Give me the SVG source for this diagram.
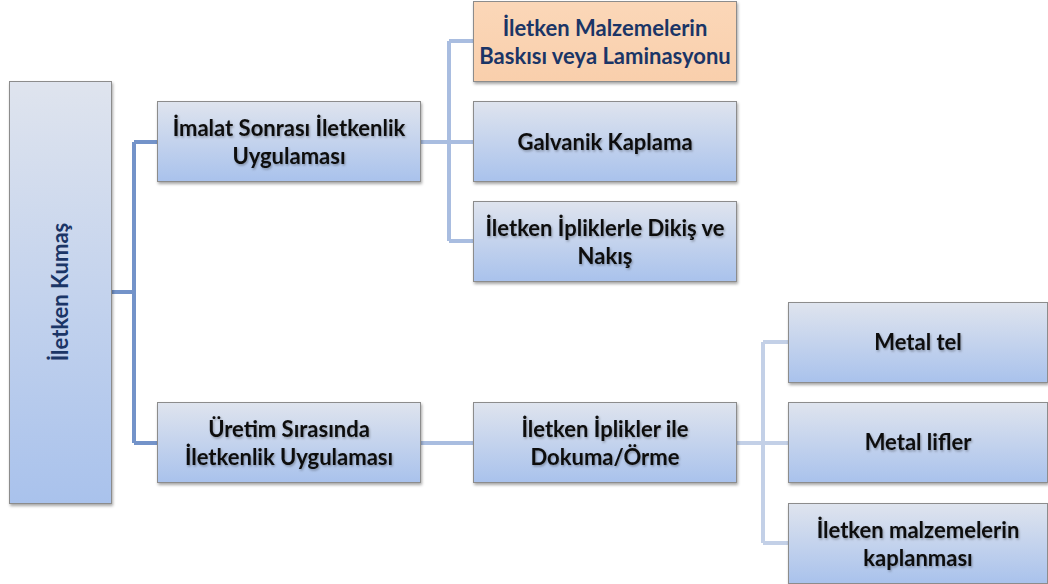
<svg xmlns="http://www.w3.org/2000/svg" width="1048" height="584" viewBox="0 0 1048 584">
<style>
.box{fill:url(#g);stroke:#8c8c8c;stroke-width:1;filter:url(#sh)}
.org{fill:url(#go);stroke:#8c8c8c;stroke-width:1;filter:url(#sh)}
text{font-family:Lato,"Open Sans","Liberation Sans",sans-serif;font-weight:bold;font-size:22px;text-anchor:middle;fill:#0d0d0d}
.t{filter:url(#ts)}
.navy{fill:#1b3566}
.c1{fill:none;stroke:#7393c9;stroke-width:4}
.c2{fill:none;stroke:#a9bde0;stroke-width:4}
.c3{fill:none;stroke:#c3d0e7;stroke-width:4}
</style>
<defs>
<linearGradient id="g" x1="0" y1="0" x2="0" y2="1">
<stop offset="0" stop-color="#dfe4ee"/>
<stop offset="1" stop-color="#a9c2ec"/>
</linearGradient>
<linearGradient id="go" x1="0" y1="0" x2="0" y2="1">
<stop offset="0" stop-color="#fbd7b8"/>
<stop offset="1" stop-color="#f9cfac"/>
</linearGradient>
<filter id="sh" x="-10%" y="-10%" width="120%" height="130%">
<feDropShadow dx="1" dy="2" stdDeviation="1.5" flood-color="#000" flood-opacity="0.35"/>
</filter>
<filter id="ts" x="-5%" y="-20%" width="110%" height="150%">
<feDropShadow dx="1" dy="1.5" stdDeviation="1" flood-color="#000" flood-opacity="0.3"/>
</filter>
</defs>
<g id="connectors">
<path class="c1" d="M111 292H134M134 142V443M134 142H157M134 443H157"/>
<path class="c2" d="M420 142H449M449 41V241M449 41H473M449 142H473M449 241H473"/>
<path class="c2" d="M420 443H473"/>
<path class="c3" d="M736 443H763M763 342V543M763 342H789M763 443H789M763 543H789"/>
</g>
<g id="root">
<rect class="box" x="9.5" y="81.5" width="102" height="422"/>
<text class="navy" transform="translate(68,292) rotate(-90)">İletken Kumaş</text>
</g>
<g id="imalat">
<rect class="box" x="157.5" y="101.5" width="263" height="80"/>
<text class="t" x="289" y="136">İmalat Sonrası İletkenlik</text>
<text class="t" x="289" y="164">Uygulaması</text>
</g>
<g id="uretim">
<rect class="box" x="157.5" y="402.5" width="263" height="80"/>
<text class="t" x="289" y="437">Üretim Sırasında</text>
<text class="t" x="289" y="465">İletkenlik Uygulaması</text>
</g>
<g id="baski">
<rect class="org" x="473.5" y="1.5" width="263" height="80"/>
<text class="navy" x="605" y="36">İletken Malzemelerin</text>
<text class="navy" x="605" y="64">Baskısı veya Laminasyonu</text>
</g>
<g id="galvanik">
<rect class="box" x="473.5" y="101.5" width="263" height="80"/>
<text class="t" x="605" y="150">Galvanik Kaplama</text>
</g>
<g id="dikis">
<rect class="box" x="473.5" y="201.5" width="263" height="80"/>
<text class="t" x="605" y="236">İletken İpliklerle Dikiş ve</text>
<text class="t" x="605" y="264">Nakış</text>
</g>
<g id="iplikler">
<rect class="box" x="473.5" y="402.5" width="263" height="80"/>
<text class="t" x="605" y="437">İletken İplikler ile</text>
<text class="t" x="605" y="465">Dokuma/Örme</text>
</g>
<g id="metaltel">
<rect class="box" x="788.5" y="302.5" width="259" height="80"/>
<text class="t" x="918" y="350">Metal tel</text>
</g>
<g id="metallifler">
<rect class="box" x="788.5" y="402.5" width="259" height="80"/>
<text class="t" x="918" y="450">Metal lifler</text>
</g>
<g id="kaplanmasi">
<rect class="box" x="788.5" y="503.5" width="259" height="80"/>
<text class="t" x="918" y="538">İletken malzemelerin</text>
<text class="t" x="918" y="566">kaplanması</text>
</g>
</svg>
